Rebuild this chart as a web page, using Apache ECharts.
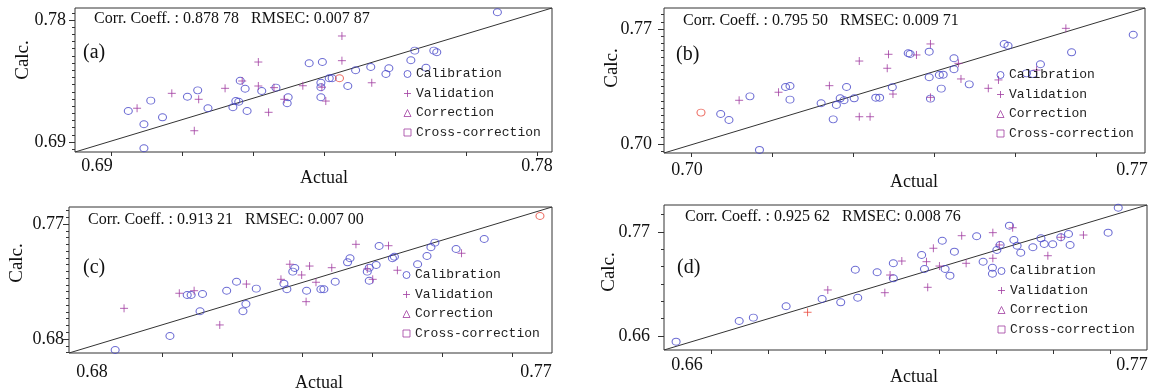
<!DOCTYPE html>
<html>
<head>
<meta charset="utf-8">
<script src="https://cdn.jsdelivr.net/npm/echarts@6/dist/echarts.min.js"></script>
<style>
  html, body { margin: 0; padding: 0; background: #fff; }
  #chart { width: 1153px; height: 392px; }
</style>
</head>
<body>
<div id="chart"></div>
<script>
// ---- data: [actual, calc] ----
const calA = [[0.6964,0.7129],[0.6996,0.7031],[0.6996,0.6854],[0.7010,0.7205],[0.7034,0.7082],[0.7085,0.7234],
  [0.7106,0.7281],[0.7127,0.7149],[0.7178,0.7156],[0.7184,0.7202],[0.7190,0.7197],[0.7193,0.7352],[0.7203,0.7293],
  [0.7207,0.7129],[0.7237,0.7276],[0.7266,0.7301],[0.7291,0.7230],[0.7289,0.7186],[0.7334,0.7481],[0.7361,0.7490],
  [0.7358,0.7337],[0.7358,0.7304],[0.7358,0.7230],[0.7375,0.7370],[0.7381,0.7370],[0.7413,0.7313],[0.7429,0.7429],
  [0.7460,0.7453],[0.7491,0.7402],[0.7497,0.7444],[0.7542,0.7503],[0.7550,0.7574],[0.7573,0.7448],[0.7589,0.7574],
  [0.7595,0.7562],[0.7719,0.7857]];
const valA = [[0.6982,0.7149],[0.7053,0.7259],[0.7099,0.6983],[0.7108,0.7215],[0.7162,0.7296],[0.7197,0.7350],
  [0.7230,0.7490],[0.7230,0.7313],[0.7251,0.7119],[0.7262,0.7301],[0.7283,0.7215],[0.7321,0.7315],[0.7360,0.7304],
  [0.7368,0.7202],[0.7401,0.7682],[0.7401,0.7500],[0.7462,0.7337]];
const redA = [[0.7396,0.7370]];

const calB = [[0.7053,0.7183],[0.7066,0.7146],[0.7099,0.7290],[0.7114,0.6964],[0.7155,0.7347],[0.7162,0.7353],
  [0.7162,0.7270],[0.7211,0.7248],[0.7230,0.7150],[0.7235,0.7237],[0.7241,0.7278],[0.7247,0.7266],[0.7251,0.7347],
  [0.7263,0.7278],[0.7297,0.7282],[0.7303,0.7282],[0.7323,0.7345],[0.7348,0.7552],[0.7351,0.7548],[0.7381,0.7562],
  [0.7381,0.7406],[0.7383,0.7276],[0.7397,0.7420],[0.7403,0.7422],[0.7400,0.7337],[0.7420,0.7522],[0.7420,0.7455],
  [0.7444,0.7363],[0.7499,0.7609],[0.7505,0.7598],[0.7534,0.7430],[0.7544,0.7426],[0.7556,0.7485],[0.7605,0.7558],
  [0.7702,0.7665]];
const valB = [[0.7082,0.7266],[0.7144,0.7315],[0.7224,0.7355],[0.7271,0.7505],[0.7271,0.7166],[0.7288,0.7166],
  [0.7317,0.7546],[0.7315,0.7461],[0.7324,0.7304],[0.7361,0.7542],[0.7383,0.7609],[0.7383,0.7284],[0.7427,0.7491],
  [0.7431,0.7396],[0.7474,0.7339],[0.7490,0.7390],[0.7550,0.7450],[0.7596,0.7704]];
const redB = [[0.7022,0.7191]];

const calC = [[0.6847,0.6714],[0.6958,0.6823],[0.6993,0.7144],[0.7001,0.7144],[0.7019,0.7017],[0.7024,0.7152],
  [0.7073,0.7178],[0.7093,0.7248],[0.7106,0.7017],[0.7112,0.7074],[0.7133,0.7194],[0.7189,0.7233],[0.7195,0.7189],
  [0.7207,0.7327],[0.7211,0.7356],[0.7235,0.7178],[0.7264,0.7189],[0.7270,0.7189],[0.7293,0.7248],[0.7318,0.7400],
  [0.7323,0.7432],[0.7358,0.7327],[0.7362,0.7358],[0.7362,0.7256],[0.7376,0.7379],[0.7382,0.7528],[0.7409,0.7432],
  [0.7413,0.7444],[0.7460,0.7385],[0.7479,0.7450],[0.7487,0.7518],[0.7495,0.7554],[0.7538,0.7504],[0.7595,0.7583]];
const valC = [[0.6865,0.7040],[0.6977,0.7158],[0.7007,0.7178],[0.7059,0.6910],[0.7113,0.7230],[0.7183,0.7267],
  [0.7201,0.7385],[0.7225,0.7301],[0.7241,0.7371],[0.7234,0.7092],[0.7254,0.7244],[0.7286,0.7358],[0.7335,0.7541],
  [0.7358,0.7348],[0.7369,0.7267],[0.7401,0.7530],[0.7419,0.7338],[0.7549,0.7471]];
const redC = [[0.7708,0.7763]];

const calD = [[0.6573,0.6540],[0.6729,0.6759],[0.6764,0.6794],[0.6845,0.6914],[0.6934,0.6991],[0.6980,0.6956],
  [0.7016,0.7301],[0.7022,0.7005],[0.7070,0.7274],[0.7110,0.7369],[0.7110,0.7210],[0.7180,0.7457],[0.7187,0.7309],
  [0.7231,0.7608],[0.7238,0.7309],[0.7250,0.7238],[0.7261,0.7492],[0.7316,0.7655],[0.7332,0.7386],[0.7355,0.7322],
  [0.7355,0.7259],[0.7366,0.7510],[0.7374,0.7563],[0.7397,0.7767],[0.7408,0.7615],[0.7416,0.7555],[0.7425,0.7481],
  [0.7455,0.7538],[0.7475,0.7633],[0.7483,0.7573],[0.7504,0.7570],[0.7524,0.7644],[0.7543,0.7679],[0.7547,0.7563],
  [0.7641,0.7693],[0.7666,0.7957]];
const valD = [[0.6948,0.7087],[0.7089,0.7058],[0.7102,0.7245],[0.7131,0.7393],[0.7192,0.7386],[0.7195,0.7115],
  [0.7209,0.7528],[0.7224,0.7340],[0.7279,0.7661],[0.7290,0.7369],[0.7356,0.7693],[0.7356,0.7422],[0.7372,0.7563],
  [0.7405,0.7745],[0.7492,0.7449],[0.7525,0.7644],[0.7580,0.7668]];
const redD = [[0.6898,0.6851]];

const corr = ['0.878 78', '0.795 50', '0.913 21', '0.925 62'];
const rmsec = ['0.007 87', '0.009 71', '0.007 00', '0.008 76'];
const tags = ['(a)', '(b)', '(c)', '(d)'];
const legendNames = ['Calibration', 'Validation', 'Correction', 'Cross-correction'];

const steps = (start, step, n) => Array.from({ length: n }, (_, k) => +(start + k * step).toFixed(5));

const panels = [
  { cal: calA, val: valA, red: redA, redSymbol: 'circle',
    grid: { left: 75, top: 8, width: 477, height: 144 },
    x: { min: 0.6855, max: 0.78307, labels: [0.69, 0.78], ticks: steps(0.69286, 0.014523, 7), margin: 5 },
    y: { min: 0.68262, max: 0.78885, labels: [0.69, 0.78], minor: steps(0.6847, 0.09 / 17, 20), margin: 9 },
    legend: [403.5, 67.5], stats: [94, 19], tag: [83, 53], calc: [23, 60], actual: [324, 178] },
  { cal: calB, val: valB, red: redB, redSymbol: 'circle',
    grid: { left: 664, top: 8, width: 481, height: 145 },
    x: { min: 0.69638, max: 0.77205, labels: [0.70, 0.77], ticks: steps(0.70063, 0.012742, 6), margin: 8 },
    y: { min: 0.69452, max: 0.78278, labels: [0.70, 0.77], minor: steps(0.695625, 0.004375, 20), margin: 12 },
    legend: [996.5, 68.5], stats: [683, 21], tag: [676, 55], calc: [612, 68], actual: [914, 182] },
  { cal: calC, val: valC, red: redC, redSymbol: 'circle',
    grid: { left: 69, top: 207, width: 483, height: 146 },
    x: { min: 0.67534, max: 0.77324, labels: [0.68, 0.77], ticks: steps(0.69419, 0.01419, 6), margin: 10 },
    y: { min: 0.66904, max: 0.78330, labels: [0.68, 0.77], minor: steps(0.66941, 0.09 / 17, 22), margin: 5 },
    legend: [402.5, 268.5], stats: [88, 220], tag: [83, 268], calc: [17, 263], actual: [319, 383] },
  { cal: calD, val: valD, red: redD, redSymbol: 'plus',
    grid: { left: 664, top: 205, width: 483, height: 145 },
    x: { min: 0.65431, max: 0.77371, labels: [0.66, 0.77], ticks: steps(0.66593, 0.01409, 8), margin: 6 },
    y: { min: 0.64519, max: 0.79856, labels: [0.66, 0.77], minor: steps(0.66, 0.11 / 6, 8), margin: 14 },
    legend: [997.5, 264.5], stats: [685, 217], tag: [677, 268], calc: [609, 272], actual: [914, 377] }
];

const BLUE = '#4646c8';
const PURPLE = '#a03ca0';
const RED = '#e8483c';
const INK = '#111';
const SERIF = '"Liberation Serif", "Times New Roman", serif';
const PLUS = 'path://M0,5L10,5M5,0L5,10';

const hollow = c => ({ color: 'transparent', borderColor: c, borderWidth: 1 });

const chart = echarts.init(document.getElementById('chart'), null, { renderer: 'canvas' });

const grid = [], xAxis = [], yAxis = [], series = [], legend = [], graphic = [];

panels.forEach((p, i) => {
  grid.push(Object.assign({ show: true, borderColor: '#333', borderWidth: 1, containLabel: false,
    outerBoundsMode: 'none' }, p.grid));

  xAxis.push({
    gridIndex: i, type: 'value', min: p.x.min, max: p.x.max,
    axisLine: { show: false }, splitLine: { show: false },
    axisTick: { customValues: p.x.ticks, length: 4, lineStyle: { color: '#333' } },
    axisLabel: { customValues: p.x.labels, formatter: v => v.toFixed(2), margin: p.x.margin,
      fontFamily: SERIF, fontSize: 18, color: INK }
  });
  yAxis[i] = {
    gridIndex: i, type: 'value', min: p.y.min, max: p.y.max, position: 'left',
    axisLine: { show: false }, splitLine: { show: false },
    axisTick: { customValues: p.y.labels, length: 6, lineStyle: { color: '#333' } },
    axisLabel: { customValues: p.y.labels, formatter: v => v.toFixed(2), margin: p.y.margin,
      fontFamily: SERIF, fontSize: 18, color: INK }
  };
  yAxis[i + 4] = {
    gridIndex: i, type: 'value', min: p.y.min, max: p.y.max, position: 'left', offset: 0,
    axisLine: { show: false }, splitLine: { show: false }, axisLabel: { show: false },
    axisTick: { customValues: p.y.minor, length: 3, lineStyle: { color: '#333' } }
  };

  series.push({
    type: 'line', xAxisIndex: i, yAxisIndex: i, silent: true, symbol: 'none', z: 1,
    lineStyle: { color: '#333', width: 1 },
    data: [[p.x.min, p.y.min], [p.x.max, p.y.max]]
  });
  series.push({
    name: 'Calibration', type: 'scatter', xAxisIndex: i, yAxisIndex: i,
    symbol: 'circle', symbolSize: [8, 7], itemStyle: hollow(BLUE), data: p.cal
  });
  series.push({
    name: 'Validation', type: 'scatter', xAxisIndex: i, yAxisIndex: i,
    symbol: PLUS, symbolSize: 8, itemStyle: hollow(PURPLE), data: p.val
  });
  series.push({
    name: 'Selected', type: 'scatter', xAxisIndex: i, yAxisIndex: i,
    symbol: p.redSymbol === 'plus' ? PLUS : 'circle', symbolSize: p.redSymbol === 'plus' ? 8 : [8, 7],
    itemStyle: hollow(RED), data: p.red
  });

  legend.push({
    orient: 'vertical', left: p.legend[0], top: p.legend[1], padding: 0,
    itemWidth: 7, itemHeight: 7, itemGap: 6.5, selectedMode: false,
    textStyle: { fontFamily: '"Liberation Mono", monospace', fontSize: 13, color: '#222' },
    data: [
      { name: 'Calibration', icon: 'circle', itemStyle: hollow(BLUE) },
      { name: 'Validation', icon: PLUS, itemStyle: hollow(PURPLE) },
      { name: 'Correction', icon: 'triangle', itemStyle: hollow(PURPLE) },
      { name: 'Cross-correction', icon: 'rect', itemStyle: hollow(PURPLE) }
    ]
  });

  graphic.push(
    { type: 'text', x: p.stats[0], y: p.stats[1], silent: true,
      style: { text: 'Corr. Coeff. : ' + corr[i] + '   RMSEC: ' + rmsec[i], font: '16px ' + SERIF,
        fill: INK, textAlign: 'left', textVerticalAlign: 'middle' } },
    { type: 'text', x: p.tag[0], y: p.tag[1], silent: true,
      style: { text: tags[i], font: '20px ' + SERIF, fill: INK, textAlign: 'left', textVerticalAlign: 'middle' } },
    { type: 'text', x: p.calc[0], y: p.calc[1], rotation: Math.PI / 2, silent: true,
      style: { text: 'Calc.', font: '19px ' + SERIF, fill: INK, textAlign: 'center', textVerticalAlign: 'middle' } },
    { type: 'text', x: p.actual[0], y: p.actual[1], silent: true,
      style: { text: 'Actual', font: '18px ' + SERIF, fill: INK, textAlign: 'center', textVerticalAlign: 'middle' } }
  );
});

// legend-only entries
series.push({ name: 'Correction', type: 'scatter', xAxisIndex: 0, yAxisIndex: 0,
  symbol: 'triangle', symbolSize: 7, itemStyle: hollow(PURPLE), data: [] });
series.push({ name: 'Cross-correction', type: 'scatter', xAxisIndex: 0, yAxisIndex: 0,
  symbol: 'rect', symbolSize: 7, itemStyle: hollow(PURPLE), data: [] });

chart.setOption({
  animation: false,
  backgroundColor: '#fff',
  grid, xAxis, yAxis, series, legend, graphic
});

window.addEventListener('resize', () => chart.resize());
</script>
</body>
</html>
